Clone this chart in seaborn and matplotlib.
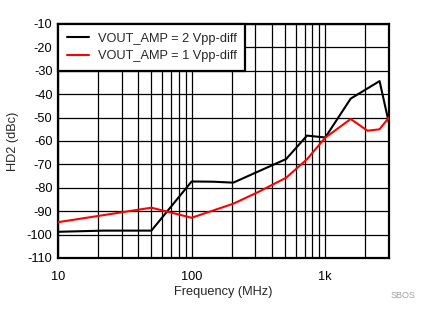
import matplotlib
matplotlib.use("Agg")
import matplotlib.pyplot as plt
import matplotlib.ticker as mticker
import numpy as np
import pandas as pd
import seaborn as sns

# HD2 vs frequency for two output amplitudes
freq_2v = [10, 22, 50, 100, 145, 205, 510, 730, 1000, 1550, 2550, 3000]
hd2_2v = [-98.8, -98.3, -98.3, -77.3, -77.4, -77.8, -67.7, -57.7, -58.5, -41.9, -34.4, -52.5]

freq_1v = [10, 50, 100, 205, 310, 510, 730, 1000, 1550, 2070, 2550, 3000]
hd2_1v = [-94.7, -88.5, -92.8, -86.8, -82.0, -75.7, -67.8, -58.6, -50.6, -55.6, -55.0, -49.9]

series_names = ["VOUT_AMP = 2 Vpp-diff", "VOUT_AMP = 1 Vpp-diff"]
series_colors = ["#000000", "#ff0000"]

x_ticks = [10, 100, 1000]
x_tick_labels = ["10", "100", "1k"]
y_ticks = list(range(-110, 0, 10))

df = pd.concat([
    pd.DataFrame({"freq": freq_2v, "hd2": hd2_2v, "series": series_names[0]}),
    pd.DataFrame({"freq": freq_1v, "hd2": hd2_1v, "series": series_names[1]}),
])

sns.set_style("white")
plt.rcParams["font.family"] = ["Liberation Sans", "DejaVu Sans"]
FS = 9.2

fig = plt.figure(figsize=(4.33, 3.24), dpi=100)
ax = fig.add_axes([58 / 433, 1 - 258 / 324, (389 - 58) / 433, (258 - 24) / 324])

sns.lineplot(data=df, x="freq", y="hd2", hue="series", palette=series_colors,
             hue_order=series_names, linewidth=1.5, ax=ax, sort=False,
             estimator=None, legend=True, zorder=3)

ax.set_xscale("log")
ax.set_xlim(10, 3000)
ax.set_ylim(-110, -10)
ax.xaxis.set_major_locator(mticker.FixedLocator(x_ticks))
ax.xaxis.set_major_formatter(mticker.FixedFormatter(x_tick_labels))
ax.xaxis.set_minor_locator(mticker.LogLocator(base=10, subs=np.arange(2, 10)))
ax.xaxis.set_minor_formatter(mticker.NullFormatter())
ax.set_yticks(y_ticks)
ax.set_yticklabels([str(v) for v in y_ticks])

ax.grid(True, which="both", axis="x", color="black", linewidth=0.9)
ax.grid(True, which="major", axis="y", color="black", linewidth=0.9)
ax.tick_params(axis="both", which="both", length=0, labelsize=FS, colors="black")
ax.tick_params(axis="x", pad=9)
ax.tick_params(axis="y", pad=4)
for s in ax.spines.values():
    s.set_visible(True)
    s.set_color("black")
    s.set_linewidth(1.6)

ax.set_xlabel("Frequency (MHz)", fontsize=FS, labelpad=2.5)
ax.set_ylabel("HD2 (dBc)", fontsize=FS, labelpad=5.5)

handles, labels = ax.get_legend_handles_labels()
leg = ax.legend(handles, labels, loc="upper left", bbox_to_anchor=(0, 1),
                borderaxespad=0, fontsize=FS, frameon=True, fancybox=False,
                handlelength=1.75, handletextpad=0.65, borderpad=0.7,
                labelspacing=0.4, edgecolor="black", framealpha=1)
leg.get_frame().set_linewidth(1.6)
leg.set_zorder(5)

fig.text(403 / 433, 1 - 296 / 324, "SBOS", fontsize=6.5, color="#a0a0a0",
         ha="center", va="center")

fig.savefig("out.png", dpi=100)
